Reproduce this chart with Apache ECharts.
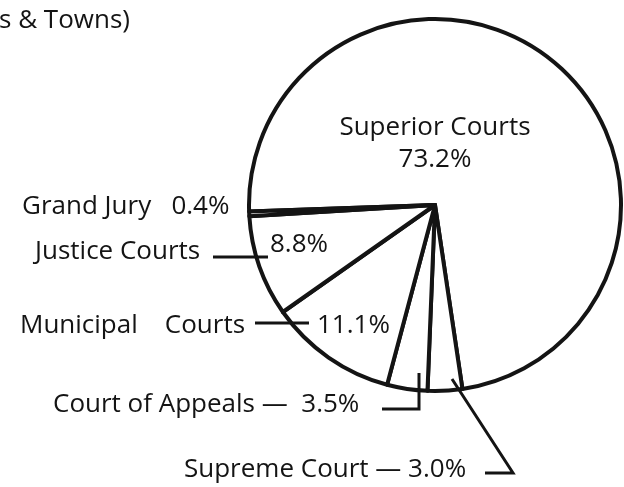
<!DOCTYPE html>
<html lang="en">
<head>
    <meta charset="UTF-8">
    <title>Courts pie</title>
    <script src="https://cdn.jsdelivr.net/npm/echarts@6/dist/echarts.min.js"></script>
    <style>
        html, body { margin: 0; padding: 0; background: #fff; }
        #chart { width: 624px; height: 487px; }
    </style>
</head>
<body>
    <div id="chart"></div>
<script>
    // slices, clockwise from the Grand Jury line
    var courtNames = ['Superior Courts', 'Supreme Court', 'Court of Appeals', 'Municipal Courts', 'Justice Courts', 'Grand Jury'];
    var courtShares = [73.2, 3.0, 3.5, 11.1, 8.8, 0.4];
    var titleFragment = 's & Towns)';

    var ink = '#141414';
    var font = '26px "Open Sans", sans-serif';

    function pct(i) {
        return courtShares[i].toFixed(1) + '%';
    }

    function txt(str, x, y, align) {
        return {
            type: 'text',
            z: 100,
            style: {
                text: str, x: x, y: y, font: font, fill: ink,
                textAlign: align || 'left', textVerticalAlign: 'middle'
            },
            silent: true
        };
    }

    function leader(points) {
        return {
            type: 'polyline',
            z: 100,
            shape: { points: points },
            style: { stroke: ink, lineWidth: 3, fill: null },
            silent: true
        };
    }

    var graphics = [
        txt(titleFragment, -1, 21),
        // Superior
        txt(courtNames[0], 435, 128, 'center'),
        txt(pct(0), 435, 160, 'center'),
        // Grand Jury
        txt(courtNames[5] + '   ' + pct(5), 22, 207),
        // Justice
        txt(courtNames[4], 35, 252),
        leader([[213, 257], [268, 257]]),
        txt(pct(4), 270, 245),
        // Municipal
        txt('Municipal    Courts', 20, 326),
        leader([[255, 323], [309, 323]]),
        txt(pct(3), 317, 326),
        // Appeals
        txt(courtNames[2] + ' \u2014  ' + pct(2), 53, 405),
        leader([[382, 409], [419, 409], [419, 373]]),
        // Supreme
        txt(courtNames[1] + ' \u2014 ' + pct(1), 184, 470),
        leader([[452, 379], [513, 473], [485, 473]])
    ];

    var option = {
        backgroundColor: '#fff',
        animation: false,
        graphic: graphics,
        series: [{
            type: 'pie',
            z: 2,
            center: [435, 205],
            radius: 186,
            startAngle: 182,
            clockwise: true,
            label: { show: false },
            labelLine: { show: false },
            emphasis: { disabled: true },
            itemStyle: {
                color: '#fff',
                borderColor: ink,
                borderWidth: 4,
                borderJoin: 'round'
            },
            data: courtNames.map(function (n, i) {
                return { name: n, value: courtShares[i] };
            })
        }]
    };

    var myChart = echarts.init(document.getElementById('chart'));
    myChart.setOption(option);
</script>
</body>
</html>
